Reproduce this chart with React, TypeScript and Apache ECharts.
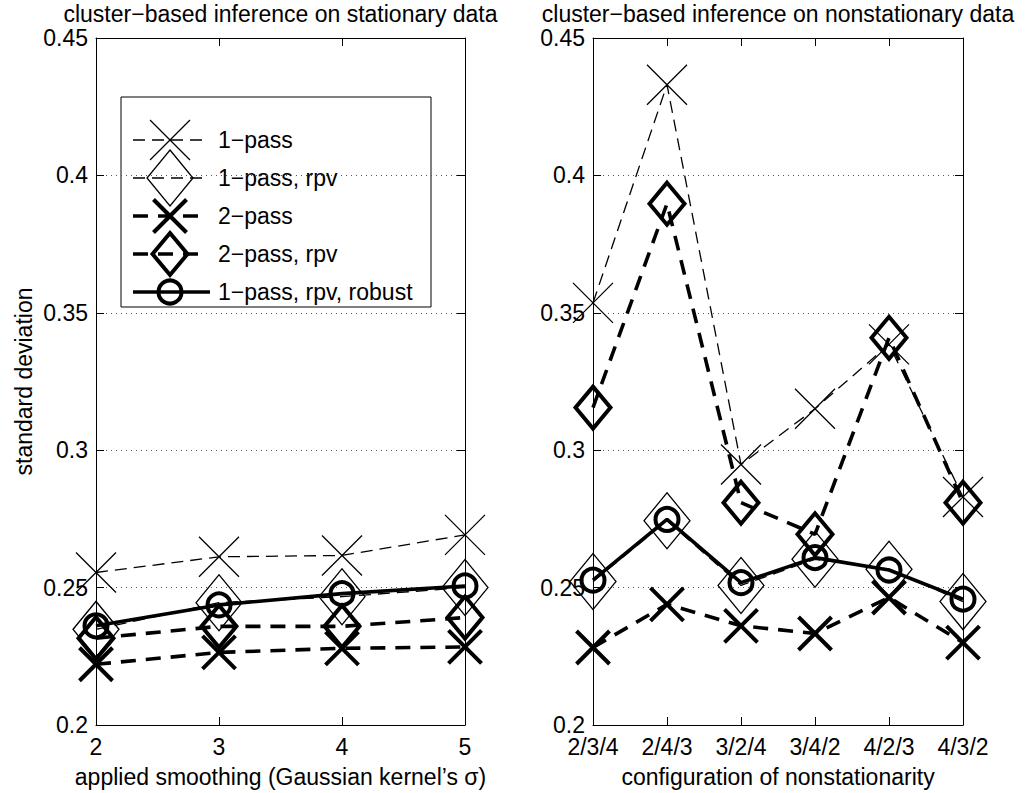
import React, { useEffect, useRef } from "react";
import * as echarts from "echarts";

// ---------- data ----------
const smoothingLevels = [2, 3, 4, 5];
const configurations = ["2/3/4", "2/4/3", "3/2/4", "3/4/2", "4/2/3", "4/3/2"];
const seriesNames = ["1−pass", "1−pass, rpv", "2−pass", "2−pass, rpv", "1−pass, rpv, robust"];

// stationary data (left panel)
const statOnePass = [0.2555, 0.2612, 0.2617, 0.2692];
const statOnePassRpv = [0.2348, 0.2445, 0.2467, 0.25];
const statTwoPass = [0.2221, 0.2264, 0.2279, 0.2284];
const statTwoPassRpv = [0.2316, 0.2359, 0.2359, 0.2391];
const statRobust = [0.2361, 0.2437, 0.2478, 0.2506];

// nonstationary data (right panel)
const nonOnePass = [0.3536, 0.433, 0.2948, 0.3151, 0.3385, 0.283];
const nonOnePassRpv = [0.2522, 0.2743, 0.2508, 0.2603, 0.2567, 0.2449];
const nonTwoPass = [0.2282, 0.2439, 0.2361, 0.2333, 0.2464, 0.23];
const nonTwoPassRpv = [0.3155, 0.3897, 0.2809, 0.2694, 0.3409, 0.2809];
const nonRobust = [0.2527, 0.2748, 0.2518, 0.2609, 0.2564, 0.2458];

const statSeries = [statOnePass, statOnePassRpv, statTwoPass, statTwoPassRpv, statRobust];
const nonSeries = [nonOnePass, nonOnePassRpv, nonTwoPass, nonTwoPassRpv, nonRobust];

// ---------- styles ----------
const FONT = "'Liberation Sans', Arial, Helvetica, sans-serif";
const FS = 23;
const X_PATH = "path://M0 0L1 1M1 0L0 1";
const THIN = 1.3;
const THICK = 3.6;
const THIN_DASH = [12, 7];
const THICK_DASH = [15, 10];

type Sty = {
  symbol: string;
  size: number | number[];
  markerWidth: number;
  lineWidth: number;
  dash: number[] | "solid";
};
const styles: Sty[] = [
  { symbol: X_PATH, size: [40, 40], markerWidth: THIN, lineWidth: THIN, dash: THIN_DASH },
  { symbol: "diamond", size: [46, 56], markerWidth: THIN, lineWidth: THIN, dash: THIN_DASH },
  { symbol: X_PATH, size: [33, 33], markerWidth: 4, lineWidth: THICK, dash: THICK_DASH },
  { symbol: "diamond", size: [35, 42], markerWidth: 4, lineWidth: THICK, dash: THICK_DASH },
  { symbol: "circle", size: 23, markerWidth: 4, lineWidth: THICK, dash: "solid" },
];

const GRIDS = [
  { left: 96, top: 38, width: 369, height: 691 },
  { left: 593, top: 38, width: 370, height: 691 },
];

function fmt(v: number) {
  return String(Number(v.toFixed(2)));
}

function buildLegend() {
  const children: any[] = [];
  const bx = 121, by = 97, bw = 310, bh = 210;
  children.push({
    type: "rect",
    shape: { x: bx, y: by, width: bw, height: bh },
    style: { fill: "#fff", stroke: "#000", lineWidth: 1 },
  });
  const cx = 170;
  seriesNames.forEach((name, i) => {
    const s = styles[i];
    const cy = 140 + i * 38;
    children.push({
      type: "line",
      shape: { x1: 133, y1: cy, x2: i === 4 ? 210 : 207, y2: cy },
      style: {
        stroke: "#000",
        lineWidth: s.lineWidth,
        lineDash: s.dash === "solid" ? null : s.dash,
      },
    });
    const w = Array.isArray(s.size) ? s.size[0] : s.size;
    const h = Array.isArray(s.size) ? s.size[1] : s.size;
    if (s.symbol === X_PATH) {
      children.push({
        type: "line",
        shape: { x1: cx - w / 2, y1: cy - h / 2, x2: cx + w / 2, y2: cy + h / 2 },
        style: { stroke: "#000", lineWidth: s.markerWidth },
      });
      children.push({
        type: "line",
        shape: { x1: cx + w / 2, y1: cy - h / 2, x2: cx - w / 2, y2: cy + h / 2 },
        style: { stroke: "#000", lineWidth: s.markerWidth },
      });
    } else if (s.symbol === "diamond") {
      children.push({
        type: "polygon",
        shape: {
          points: [
            [cx, cy - h / 2],
            [cx + w / 2, cy],
            [cx, cy + h / 2],
            [cx - w / 2, cy],
          ],
        },
        style: { fill: "none", stroke: "#000", lineWidth: s.markerWidth },
      });
    } else {
      children.push({
        type: "circle",
        shape: { cx, cy, r: w / 2 },
        style: { fill: "none", stroke: "#000", lineWidth: s.markerWidth },
      });
    }
    children.push({
      type: "text",
      x: 218,
      y: cy,
      style: {
        text: name,
        fill: "#000",
        fontSize: FS,
        fontFamily: FONT,
        verticalAlign: "middle",
        align: "left",
      },
    });
  });
  return { type: "group", z: 100, children };
}

function makeSeries(values: number[], idx: number, panel: number, xs: any[]) {
  const s = styles[idx];
  return {
    type: "line",
    name: seriesNames[idx],
    xAxisIndex: panel * 2,
    yAxisIndex: panel * 2,
    data: values.map((v, i) => [xs[i], v]),
    symbol: s.symbol,
    symbolSize: s.size,
    showAllSymbol: true,
    clip: false,
    z: 10 + idx,
    lineStyle: { color: "#000", width: s.lineWidth, type: s.dash, cap: "butt" },
    itemStyle: { color: "none", borderColor: "#000", borderWidth: s.markerWidth },
    emphasis: { disabled: true },
  };
}

function yAxes(grid: number, withName: boolean) {
  const common = {
    gridIndex: grid,
    type: "value",
    min: 0.2,
    max: 0.45,
    interval: 0.05,
    axisLine: { show: true, onZero: false, lineStyle: { color: "#000", width: 1 } },
    axisTick: { show: true, inside: true, length: 8, lineStyle: { color: "#000", width: 1 } },
  };
  return [
    {
      ...common,
      position: "left",
      axisLabel: {
        show: true,
        margin: 8,
        fontSize: FS,
        fontFamily: FONT,
        color: "#000",
        formatter: (v: number) => fmt(v),
      },
      splitLine: { show: true, lineStyle: { color: "#555", width: 1, type: [1, 4] } },
      name: withName ? "standard deviation" : "",
      nameLocation: "middle",
      nameGap: 61,
      nameTextStyle: { fontSize: FS, fontFamily: FONT, color: "#000" },
    },
    {
      ...common,
      position: "right",
      axisLabel: { show: false },
      splitLine: { show: false },
    },
  ];
}

function xAxesStat() {
  const common = {
    gridIndex: 0,
    type: "value",
    min: 2,
    max: 5,
    interval: 1,
    axisLine: { show: true, onZero: false, lineStyle: { color: "#000", width: 1 } },
    axisTick: { show: true, inside: true, length: 8, lineStyle: { color: "#000", width: 1 } },
    splitLine: { show: false },
  };
  return [
    {
      ...common,
      position: "bottom",
      axisLabel: { show: true, margin: 10, fontSize: FS, fontFamily: FONT, color: "#000" },
      name: "applied smoothing (Gaussian kernel’s σ)",
      nameLocation: "middle",
      nameGap: 40,
      nameTextStyle: { fontSize: FS, fontFamily: FONT, color: "#000" },
    },
    { ...common, position: "top", axisLabel: { show: false } },
  ];
}

function xAxesNon() {
  const common = {
    gridIndex: 1,
    type: "category",
    data: configurations,
    boundaryGap: false,
    axisLine: { show: true, onZero: false, lineStyle: { color: "#000", width: 1 } },
    axisTick: { show: true, inside: true, length: 8, lineStyle: { color: "#000", width: 1 } },
    splitLine: { show: false },
  };
  return [
    {
      ...common,
      position: "bottom",
      axisLabel: { show: true, margin: 10, fontSize: FS, fontFamily: FONT, color: "#000", interval: 0 },
      name: "configuration of nonstationarity",
      nameLocation: "middle",
      nameGap: 40,
      nameTextStyle: { fontSize: FS, fontFamily: FONT, color: "#000" },
    },
    { ...common, position: "top", axisLabel: { show: false } },
  ];
}

export default function App() {
  const ref = useRef<HTMLDivElement>(null);
  useEffect(() => {
    document.body.style.margin = "0";
    if (!ref.current) return;
    const chart = echarts.init(ref.current, undefined, { renderer: "svg" });
    const option: any = {
      animation: false,
      backgroundColor: "#fff",
      title: [
        {
          text: "cluster−based inference on stationary data",
          left: GRIDS[0].left + GRIDS[0].width / 2,
          top: 2,
          textAlign: "center",
          padding: 0,
          textStyle: { fontSize: FS, fontWeight: "normal", fontFamily: FONT, color: "#000" },
        },
        {
          text: "cluster−based inference on nonstationary data",
          left: GRIDS[1].left + GRIDS[1].width / 2,
          top: 2,
          textAlign: "center",
          padding: 0,
          textStyle: { fontSize: FS, fontWeight: "normal", fontFamily: FONT, color: "#000" },
        },
      ],
      grid: GRIDS.map((g) => ({ ...g, containLabel: false })),
      xAxis: [...xAxesStat(), ...xAxesNon()],
      yAxis: [...yAxes(0, true), ...yAxes(1, false)],
      series: [
        ...statSeries.map((v, i) => makeSeries(v, i, 0, smoothingLevels)),
        ...nonSeries.map((v, i) => makeSeries(v, i, 1, configurations)),
      ],
      graphic: [buildLegend()],
    };
    chart.setOption(option);
    return () => chart.dispose();
  }, []);
  return <div ref={ref} style={{ width: 1027, height: 793 }} />;
}
